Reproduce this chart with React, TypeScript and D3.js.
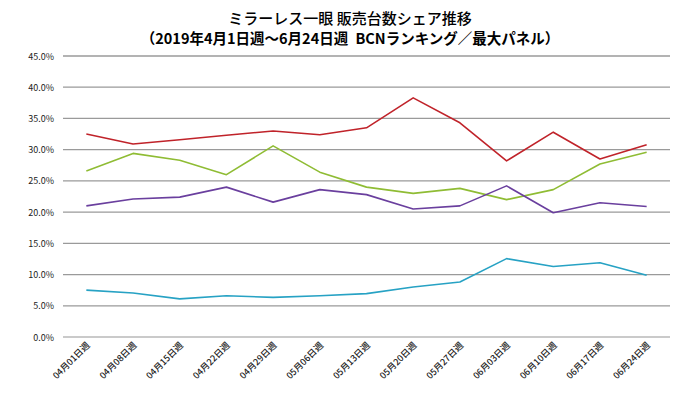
import React, { useRef, useEffect } from 'react';
import * as d3 from 'd3';

const weeks = [
  '04月01日週', '04月08日週', '04月15日週', '04月22日週', '04月29日週', '05月06日週', '05月13日週',
  '05月20日週', '05月27日週', '06月03日週', '06月10日週', '06月17日週', '06月24日週',
];
const redSeries = [32.5, 30.9, 31.6, 32.3, 33.0, 32.4, 33.5, 38.3, 34.3, 28.2, 32.8, 28.5, 30.8];
const greenSeries = [26.6, 29.4, 28.3, 26.0, 30.6, 26.4, 24.0, 23.0, 23.8, 22.0, 23.6, 27.7, 29.6];
const purpleSeries = [21.0, 22.1, 22.4, 24.0, 21.6, 23.6, 22.8, 20.5, 21.0, 24.2, 19.9, 21.5, 20.9];
const cyanSeries = [7.5, 7.05, 6.1, 6.6, 6.35, 6.6, 6.95, 8.0, 8.8, 12.55, 11.3, 11.9, 9.9];
const yTicks = [0, 5, 10, 15, 20, 25, 30, 35, 40, 45];
const titleLines = ['ミラーレス一眼 販売台数シェア推移', '（2019年4月1日週～6月24日週\u2002BCNランキング／最大パネル）'];

const series = [
  { values: redSeries, color: '#c0232a' },
  { values: greenSeries, color: '#8fbc34' },
  { values: purpleSeries, color: '#6a3f9e' },
  { values: cyanSeries, color: '#27a2c4' },
];

const W = 699, H = 394;
const font = '"Noto Sans CJK JP", "Noto Sans", sans-serif';

function App() {
  const svgRef = useRef<SVGSVGElement>(null);

  useEffect(() => {
    const svg = d3.select(svgRef.current);
    svg.selectAll('*').remove();

    const x = d3.scaleBand().domain(weeks).range([63, 670]);
    const y = d3.scaleLinear().domain([0, 45]).range([337, 56]);
    const cx = (d: string) => (x(d) as number) + x.bandwidth() / 2;

    // title
    svg.selectAll('.title')
      .data(titleLines)
      .join('text')
      .attr('class', 'title')
      .attr('x', 350)
      .attr('y', (d, i) => 24 + i * 20)
      .attr('text-anchor', 'middle')
      .attr('font-family', font)
      .attr('font-size', (d, i) => (i === 0 ? 15 : 14.5))
      .attr('font-weight', (d, i) => (i === 0 ? 500 : 700))
      .attr('fill', '#000')
      .text((d) => d);

    // grid
    svg.selectAll('.grid')
      .data(yTicks)
      .join('line')
      .attr('class', 'grid')
      .attr('x1', 63)
      .attr('x2', 670)
      .attr('y1', (d) => y(d))
      .attr('y2', (d) => y(d))
      .attr('stroke', (d) => (d === 0 ? '#b8b8b8' : '#9a9a9a'))
      .attr('stroke-width', 1.3);

    // y labels
    svg.selectAll('.ylab')
      .data(yTicks)
      .join('text')
      .attr('class', 'ylab')
      .attr('x', 54)
      .attr('y', (d) => y(d) + 3.5)
      .attr('text-anchor', 'end')
      .attr('font-family', font)
      .attr('font-size', 9)
      .attr('fill', '#222')
      .text((d) => d.toFixed(1) + '%');

    // x labels
    svg.selectAll('.xlab')
      .data(weeks)
      .join('text')
      .attr('class', 'xlab')
      .attr('transform', (d) => `translate(${cx(d) + 4},${346}) rotate(-45)`)
      .attr('text-anchor', 'end')
      .attr('font-family', font)
      .attr('font-size', 9)
      .attr('font-weight', 500)
      .attr('fill', '#222')
      .text((d) => d);

    // lines
    const line = d3.line<number>()
      .x((d, i) => cx(weeks[i]))
      .y((d) => y(d));

    svg.selectAll('.series')
      .data(series)
      .join('path')
      .attr('class', 'series')
      .attr('fill', 'none')
      .attr('stroke', (s) => s.color)
      .attr('stroke-width', 1.6)
      .attr('stroke-linejoin', 'round')
      .attr('d', (s) => line(s.values));
  }, []);

  return (
    <svg
      ref={svgRef}
      width={W}
      height={H}
      style={{ position: 'absolute', left: 0, top: 0, background: '#fff' }}
    ></svg>
  );
}

export default App;
